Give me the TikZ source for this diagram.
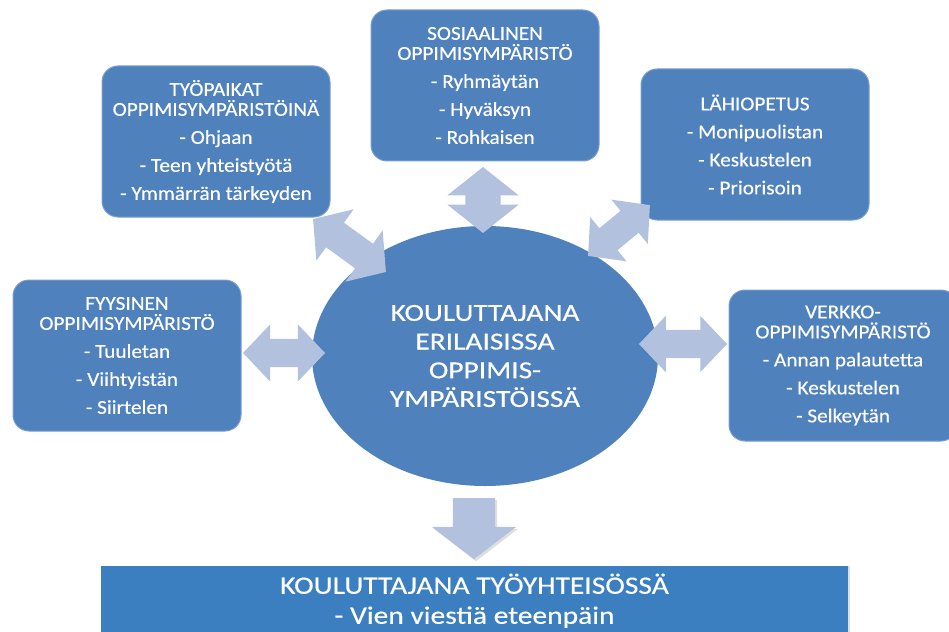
\documentclass[tikz,border=0pt]{standalone}
\usepackage{fontspec}
\setmainfont{Carlito}
\newfontfamily\boxfont{Carlito}[FakeStretch=1.08,FakeBold=0.4]
\newfontfamily\hubfont{Carlito}[FakeStretch=1.2,FakeBold=0.4]
\newfontfamily\bandfont{Carlito}[FakeStretch=1.18,FakeBold=0.4]
\usetikzlibrary{shapes.geometric,shapes.arrows,shadows}
\definecolor{boxblue}{RGB}{79,129,189}
\definecolor{rimblue}{RGB}{120,158,210}
\definecolor{bandblue}{RGB}{60,127,193}
\definecolor{arrowblue}{RGB}{178,194,222}

\begin{document}
\begin{tikzpicture}[x=1pt,y=-1pt,
        envbox/.style={rectangle,rounded corners=16pt,fill=boxblue,draw=rimblue,line width=1pt,
            text=white,minimum width=228pt,minimum height=151pt,inner sep=0pt,align=center,
            font=\boxfont\fontsize{19.7}{20}\selectfont},
        blockarr/.style={double arrow,fill=arrowblue,inner xsep=0pt}]
        \useasboundingbox (0,0) rectangle (949,631);
        \node[envbox] (tyo) at (216,141.5) {TYÖPAIKAT\\OPPIMISYMPÄRISTÖINÄ\\[8pt]- Ohjaan\\[8pt]- Teen yhteistyötä\\[8pt]- Ymmärrän tärkeyden};
        \node[envbox] (sos) at (485,85.5) {SOSIAALINEN\\OPPIMISYMPÄRISTÖ\\[8pt]- Ryhmäytän\\[8pt]- Hyväksyn\\[8pt]- Rohkaisen};
        \node[envbox] (lahi) at (755,144.5) {LÄHIOPETUS\\[8pt]- Monipuolistan\\[8pt]- Keskustelen\\[8pt]- Priorisoin};
        \node[envbox] (fys) at (127,355.5) {FYYSINEN\\OPPIMISYMPÄRISTÖ\\[8pt]- Tuuletan\\[8pt]- Viihtyistän\\[8pt]- Siirtelen};
        \node[envbox] (verk) at (843,365.5) {VERKKO-\\OPPIMISYMPÄRISTÖ\\[8pt]- Annan palautetta\\[8pt]- Keskustelen\\[8pt]- Selkeytän};
        \node[ellipse,fill=boxblue,text=white,minimum width=346pt,minimum height=260pt,inner sep=0pt,align=center,
            font=\hubfont\fontsize{24.5}{28.7}\selectfont] (hub) at (485,356) {KOULUTTAJANA\\ERILAISISSA\\OPPIMIS-\\YMPÄRISTÖISSÄ};
        \node[rectangle,fill=bandblue,text=white,minimum width=747pt,minimum height=69.5pt,inner sep=0pt,align=center,
            drop shadow={shadow xshift=2pt,shadow yshift=0pt,opacity=0.25},
            font=\bandfont\fontsize{25}{30}\selectfont] (band) at (474.5,600.75) {KOULUTTAJANA TYÖYHTEISÖSSÄ\\- Vien viestiä eteenpäin};
        \node[blockarr,minimum height=82pt,inner ysep=14pt,double arrow head extend=14.5pt,double arrow tip angle=93] (fyshub) at (284,353) {};
        \node[blockarr,minimum height=88pt,inner ysep=14pt,double arrow head extend=14pt,double arrow tip angle=93] (hubverk) at (683,344) {};
        \node[blockarr,rotate=90,minimum height=66pt,inner ysep=17.5pt,double arrow head extend=18pt,double arrow tip angle=103] (soshub) at (483,200) {};
        \node[blockarr,rotate=-36,minimum height=90pt,inner ysep=15pt,double arrow head extend=16.5pt,double arrow tip angle=99] (tyohub) at (349.5,245.5) {};
        \node[blockarr,rotate=39.4,minimum height=80pt,inner ysep=14pt,double arrow head extend=14.5pt,double arrow tip angle=95] (lahihub) at (619,230.5) {};
        \node[single arrow,fill=arrowblue,inner xsep=0pt,inner ysep=21pt,rotate=-90,anchor=tail,minimum height=61pt,
            single arrow head extend=21pt,single arrow tip angle=105,
            drop shadow={shadow xshift=2pt,shadow yshift=-2pt,opacity=0.25}] (hubband) at (474,498) {};
    \end{tikzpicture}
\end{document}
